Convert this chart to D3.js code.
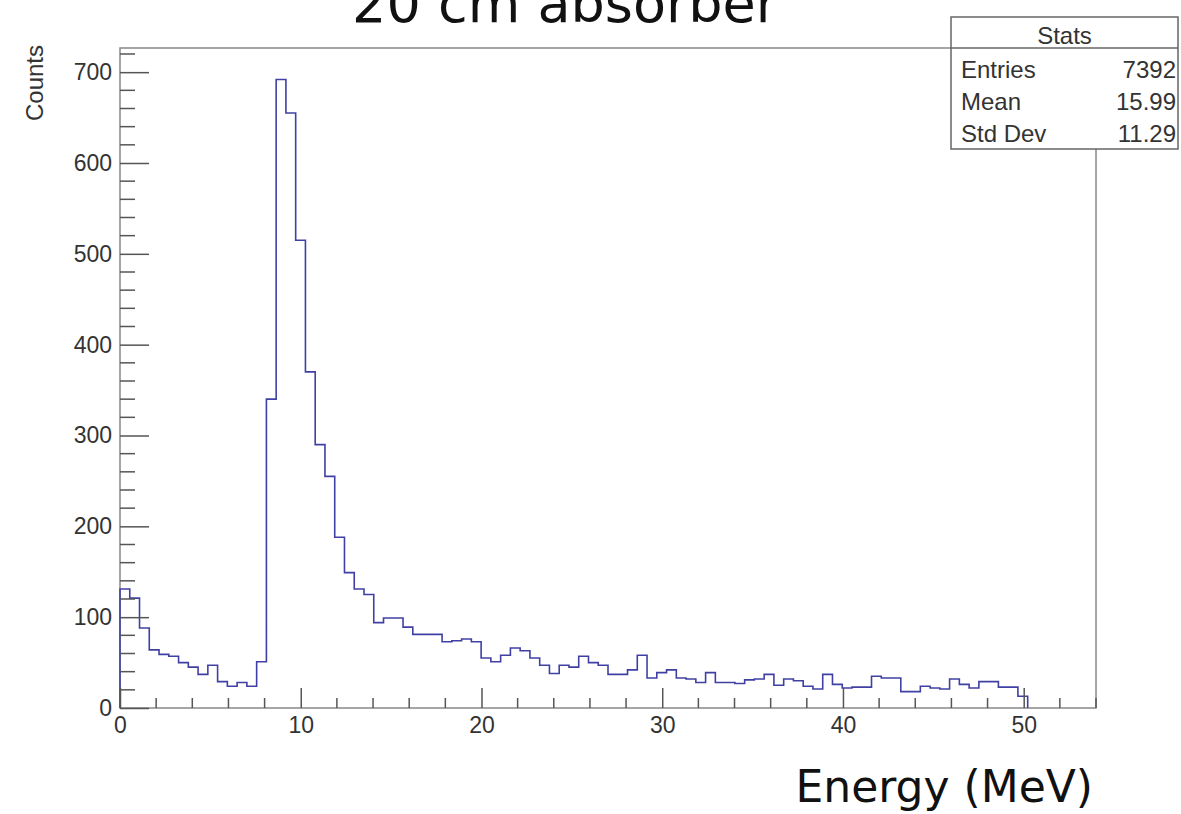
<!DOCTYPE html>
<html>
<head>
<meta charset="utf-8">
<script src="https://cdn.jsdelivr.net/npm/d3@7"></script>
<style>
  body { margin: 0; background: #fff; }
  svg { display: block; }
  .tick-lab { font-family: "Liberation Sans", Arial, sans-serif; fill: #333; }
</style>
</head>
<body>
<svg id="chart"></svg>
<script>
// histogram binning
const xMin = 0, xMax = 54, nBins = 100;
const yMax = 726.6;

// counts per bin, from bin 0 upward (bins above 92 are empty)
const counts = [
  131, 121, 88, 64, 59, 57, 50, 45, 37, 47,
  29, 24, 28, 24, 51, 340, 692, 655, 515, 370,
  290, 255, 188, 149, 131, 125, 94, 99, 99, 89,
  81, 81, 81, 73, 74, 76, 73, 55, 51, 58,
  66, 63, 55, 47, 38, 47, 45, 57, 50, 47,
  37, 37, 42, 58, 33, 39, 42, 33, 32, 28,
  39, 28, 28, 27, 31, 32, 37, 25, 32, 30,
  24, 21, 37, 26, 22, 23, 23, 35, 33, 33,
  18, 18, 24, 22, 21, 32, 26, 22, 29, 29,
  23, 23, 13
];

const xTicks = [0, 10, 20, 30, 40, 50];
const yTicks = [0, 100, 200, 300, 400, 500, 600, 700];

const statLabels = ["Entries", "Mean", "Std Dev"];
const statValues = ["7392", "15.99", "11.29"];

const W = 1181, H = 814;
const frame = { left: 120, right: 1096, top: 48, bottom: 708 };

const svg = d3.select("#chart").attr("width", W).attr("height", H);

const x = d3.scaleLinear().domain([xMin, xMax]).range([frame.left, frame.right]);
const y = d3.scaleLinear().domain([0, yMax]).range([frame.bottom, frame.top]);

const binW = (xMax - xMin) / nBins;

// frame
svg.append("rect")
  .attr("x", frame.left).attr("y", frame.top)
  .attr("width", frame.right - frame.left)
  .attr("height", frame.bottom - frame.top)
  .attr("fill", "none")
  .attr("stroke", "#888")
  .attr("stroke-width", 1.5);

// histogram as a step outline
const pts = [[xMin, 0]];
counts.forEach((c, i) => {
  pts.push([xMin + i * binW, c]);
  pts.push([xMin + (i + 1) * binW, c]);
});
pts.push([xMin + counts.length * binW, 0]);

svg.append("path")
  .datum(pts)
  .attr("fill", "none")
  .attr("stroke", "#4040a4")
  .attr("stroke-width", 1.6)
  .attr("d", d3.line().x(d => x(d[0])).y(d => y(d[1])));

// x axis (ticks point up into the frame)
const xAxis = svg.append("g")
  .attr("transform", `translate(0,${frame.bottom})`)
  .call(d3.axisBottom(x).tickValues(xTicks).tickSize(-20).tickPadding(9)
    .tickFormat(d3.format("d")));
xAxis.select(".domain").remove();
xAxis.selectAll("line").attr("stroke", "#555").attr("stroke-width", 1.5);
xAxis.selectAll("text").attr("class", "tick-lab").style("font-size", "23px");

// x minor ticks
const xMinor = d3.range(xMin, xMax + 0.001, 2).filter(v => v % 10 !== 0);
svg.append("g").selectAll("line")
  .data(xMinor).join("line")
  .attr("x1", d => x(d)).attr("x2", d => x(d))
  .attr("y1", frame.bottom).attr("y2", frame.bottom - 10)
  .attr("stroke", "#555").attr("stroke-width", 1.5);

// y axis (ticks point right into the frame)
const yAxis = svg.append("g")
  .attr("transform", `translate(${frame.left},0)`)
  .call(d3.axisLeft(y).tickValues(yTicks).tickSize(-29).tickPadding(8)
    .tickFormat(d3.format("d")));
yAxis.select(".domain").remove();
yAxis.selectAll("line").attr("stroke", "#555").attr("stroke-width", 1.5);
yAxis.selectAll("text").attr("class", "tick-lab").style("font-size", "23px");

// y minor ticks
const yMinor = d3.range(0, yMax, 20).filter(v => v % 100 !== 0);
svg.append("g").selectAll("line")
  .data(yMinor).join("line")
  .attr("x1", frame.left).attr("x2", frame.left + 15)
  .attr("y1", d => y(d)).attr("y2", d => y(d))
  .attr("stroke", "#555").attr("stroke-width", 1.5);

// y axis title
svg.append("text")
  .attr("class", "tick-lab")
  .attr("transform", `translate(43,${frame.top - 3}) rotate(-90)`)
  .attr("text-anchor", "end")
  .style("font-size", "24px")
  .text("Counts");

// title (partly off the top of the picture, as in the source)
svg.append("text")
  .attr("x", 565).attr("y", 22)
  .attr("text-anchor", "middle")
  .style("font-family", "'DejaVu Sans', sans-serif")
  .style("font-size", "54px")
  .style("fill", "#111")
  .text("20 cm absorber");

// x axis title
svg.append("text")
  .attr("x", 1093).attr("y", 802)
  .attr("text-anchor", "end")
  .style("font-family", "'DejaVu Sans', sans-serif")
  .style("font-size", "44px")
  .style("fill", "#111")
  .text("Energy (MeV)");

// stats box
const box = { x: 951, y: 17, w: 227, h: 132, head: 31 };
const stats = svg.append("g");
stats.append("rect")
  .attr("x", box.x).attr("y", box.y).attr("width", box.w).attr("height", box.h)
  .attr("fill", "#fff").attr("stroke", "#666").attr("stroke-width", 1.5);
stats.append("line")
  .attr("x1", box.x).attr("x2", box.x + box.w)
  .attr("y1", box.y + box.head).attr("y2", box.y + box.head)
  .attr("stroke", "#666").attr("stroke-width", 1.5);
stats.append("text")
  .attr("class", "tick-lab")
  .attr("x", box.x + box.w / 2).attr("y", 44)
  .attr("text-anchor", "middle")
  .style("font-size", "24px")
  .text("Stats");
statLabels.forEach((lab, i) => {
  const by = 78 + i * 32;
  stats.append("text").attr("class", "tick-lab")
    .attr("x", box.x + 10).attr("y", by)
    .style("font-size", "24px").text(lab);
  stats.append("text").attr("class", "tick-lab")
    .attr("x", box.x + box.w - 2).attr("y", by)
    .attr("text-anchor", "end")
    .style("font-size", "24px").text(statValues[i]);
});
</script>
</body>
</html>
